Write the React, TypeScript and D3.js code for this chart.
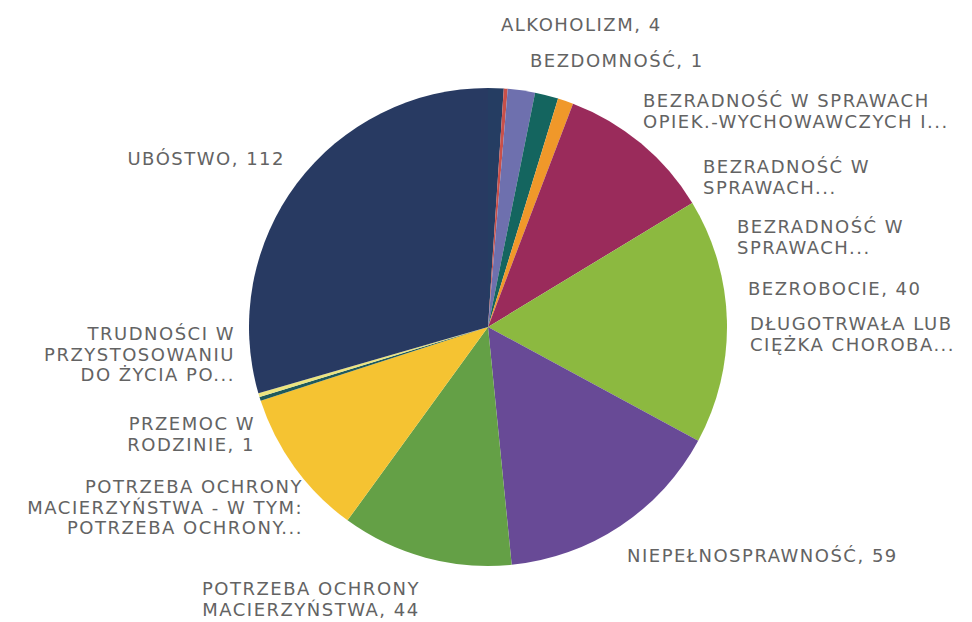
import React from "react";
import * as d3 from "d3";

// ---- data ----
const categories = [
  "ALKOHOLIZM",
  "BEZDOMNOŚĆ",
  "BEZRADNOŚĆ W SPRAWACH OPIEK.-WYCHOWAWCZYCH I PROWADZENIA GOSPODARSTWA DOMOWEGO",
  "BEZRADNOŚĆ W SPRAWACH OPIEK.-WYCHOWAWCZYCH - W TYM: RODZINY NIEPEŁNE",
  "BEZRADNOŚĆ W SPRAWACH OPIEK.-WYCHOWAWCZYCH - W TYM: RODZINY WIELODZIETNE",
  "BEZROBOCIE",
  "DŁUGOTRWAŁA LUB CIĘŻKA CHOROBA",
  "NIEPEŁNOSPRAWNOŚĆ",
  "POTRZEBA OCHRONY MACIERZYŃSTWA",
  "POTRZEBA OCHRONY MACIERZYŃSTWA - W TYM: POTRZEBA OCHRONY WIELODZIETNOŚCI",
  "PRZEMOC W RODZINIE",
  "TRUDNOŚCI W PRZYSTOSOWANIU DO ŻYCIA PO ZWOLNIENIU Z ZAKŁADU KARNEGO",
  "UBÓSTWO",
];
const values = [4, 1, 7, 6, 4, 40, 63, 59, 44, 38, 1, 1, 112];
const labelLines = [
  ["ALKOHOLIZM, 4"],
  ["BEZDOMNOŚĆ, 1"],
  ["BEZRADNOŚĆ W SPRAWACH", "OPIEK.-WYCHOWAWCZYCH I..."],
  ["BEZRADNOŚĆ W", "SPRAWACH..."],
  ["BEZRADNOŚĆ W", "SPRAWACH..."],
  ["BEZROBOCIE, 40"],
  ["DŁUGOTRWAŁA LUB", "CIĘŻKA CHOROBA..."],
  ["NIEPEŁNOSPRAWNOŚĆ, 59"],
  ["POTRZEBA OCHRONY", "MACIERZYŃSTWA, 44"],
  ["POTRZEBA OCHRONY", "MACIERZYŃSTWA - W TYM:", "POTRZEBA OCHRONY..."],
  ["PRZEMOC W", "RODZINIE, 1"],
  ["TRUDNOŚCI W", "PRZYSTOSOWANIU", "DO ŻYCIA PO..."],
  ["UBÓSTWO, 112"],
];

// ---- styles / layout ----
const colors = [
  "#253d62",
  "#c8504a",
  "#6e70ae",
  "#14655f",
  "#f0982a",
  "#9a2b5b",
  "#8cb940",
  "#684a96",
  "#64a046",
  "#f5c332",
  "#1f5a5c",
  "#ece47f",
  "#283a62",
];
const labelLayout: { x: number; y: number; anchor: string }[] = [
  { x: 501, y: 31, anchor: "start" },
  { x: 530, y: 67, anchor: "start" },
  { x: 643, y: 107, anchor: "start" },
  { x: 703, y: 173, anchor: "start" },
  { x: 737, y: 233, anchor: "start" },
  { x: 748, y: 295, anchor: "start" },
  { x: 750, y: 330, anchor: "start" },
  { x: 627, y: 562, anchor: "start" },
  { x: 311, y: 595, anchor: "middle" },
  { x: 303, y: 493, anchor: "end" },
  { x: 255, y: 430, anchor: "end" },
  { x: 235, y: 340, anchor: "end" },
  { x: 285, y: 165, anchor: "end" },
];

const W = 972;
const H = 622;
const CX = 488;
const CY = 327;
const R = 239;
const LINE_H = 20.5;

export default function App() {
  const data = values.map((v, i) => ({ v, name: categories[i], i }));
  const pie = d3
    .pie<{ v: number; name: string; i: number }>()
    .sort(null)
    .value((d) => d.v)
    .startAngle(0)
    .endAngle(2 * Math.PI);
  const arcs = pie(data);
  const arc = d3
    .arc<d3.PieArcDatum<{ v: number; name: string; i: number }>>()
    .innerRadius(0)
    .outerRadius(R);

  return (
    <svg
      width={W}
      height={H}
      viewBox={`0 0 ${W} ${H}`}
      style={{ position: "absolute", left: 0, top: 0, background: "#fff" }}
    >
      <rect width={W} height={H} fill="#fff" />
      <g transform={`translate(${CX},${CY})`}>
        {arcs.map((a) => (
          <path key={a.data.i} d={arc(a) || ""} fill={colors[a.data.i]}>
            <title>{`${a.data.name}: ${a.data.v}`}</title>
          </path>
        ))}
      </g>
      <g
        fontFamily="'DejaVu Sans', sans-serif"
        fontSize={18}
        fill="#636363"
        letterSpacing={1.5}
      >
        {labelLines.map((lines, i) => (
          <text key={i} textAnchor={labelLayout[i].anchor}>
            {lines.map((ln, j) => (
              <tspan key={j} x={labelLayout[i].x} y={labelLayout[i].y + j * LINE_H}>
                {ln}
              </tspan>
            ))}
          </text>
        ))}
      </g>
    </svg>
  );
}
